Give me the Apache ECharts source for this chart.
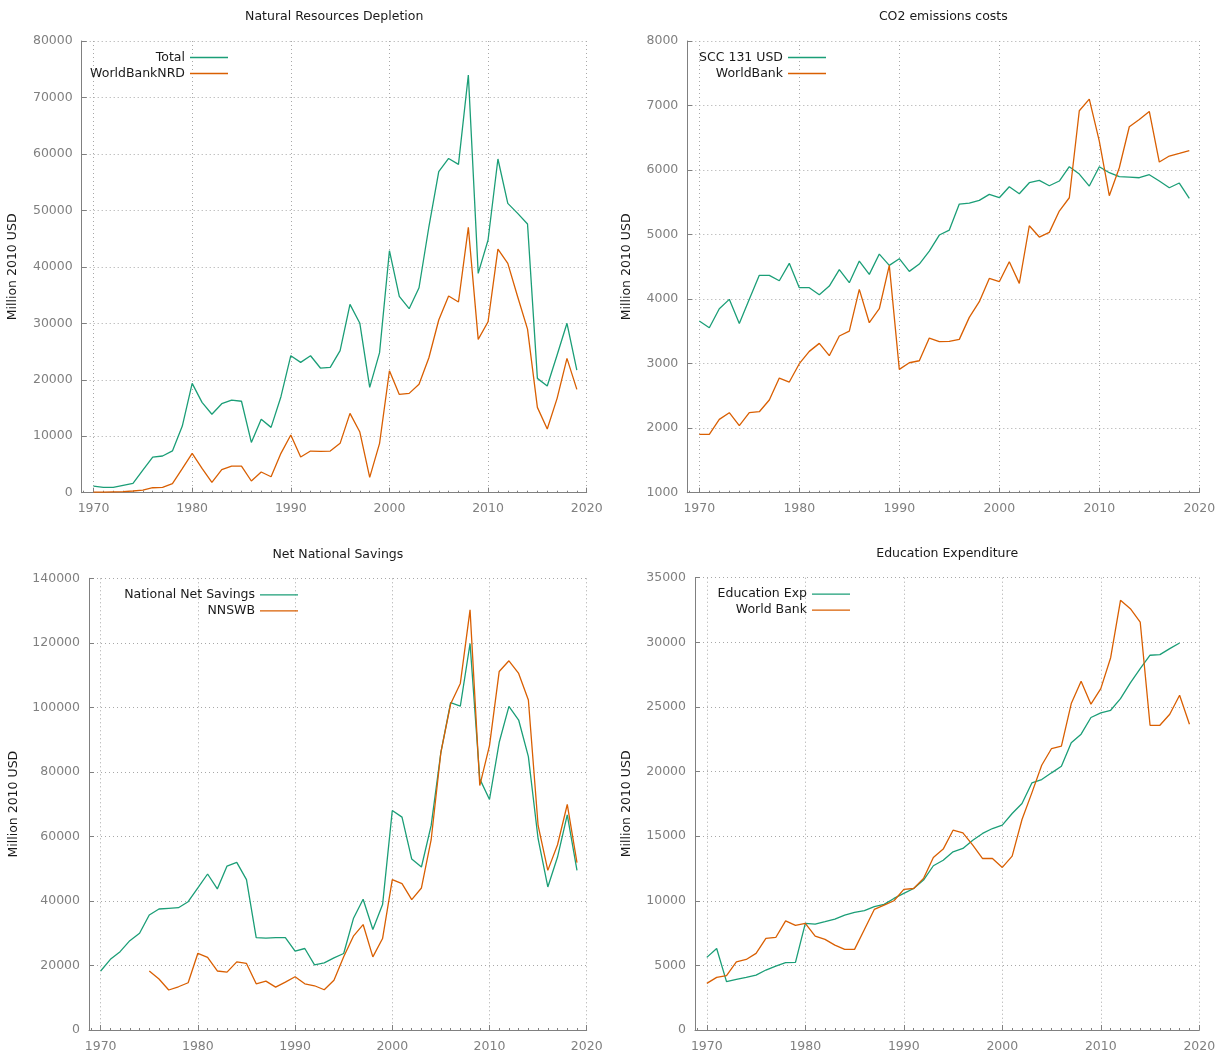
<!DOCTYPE html>
<html>
<head>
<meta charset="utf-8">
<title>Depletion, emissions, savings, education</title>
<script src="https://cdn.jsdelivr.net/npm/echarts@6/dist/echarts.min.js"></script>
<style>
  html, body { margin: 0; padding: 0; background: #ffffff; }
  #chart { width: 1228px; height: 1059px; }
</style>
</head>
<body>
<div id="chart"></div>
<script>
// years on the x axis
const years = [
  1970, 1971, 1972, 1973, 1974, 1975, 1976, 1977, 1978, 1979,
  1980, 1981, 1982, 1983, 1984, 1985, 1986, 1987, 1988, 1989,
  1990, 1991, 1992, 1993, 1994, 1995, 1996, 1997, 1998, 1999,
  2000, 2001, 2002, 2003, 2004, 2005, 2006, 2007, 2008, 2009,
  2010, 2011, 2012, 2013, 2014, 2015, 2016, 2017, 2018, 2019,
];

// Natural Resources Depletion (million 2010 USD)
const nrdTotal = [
  1180, 940, 940, 1300, 1650, 4000, 6300, 6500, 7400, 11800,
  19360, 16000, 13900, 15760, 16400, 16200, 8900, 13000, 11570, 17000,
  24260, 23080, 24260, 22080, 22200, 25150, 33350, 30000, 18650, 24800,
  42860, 34770, 32590, 36300, 47100, 56850, 59200, 58150, 73970, 38840,
  44750, 59100, 51240, 49470, 47580, 20250, 18900, 24380, 30000, 21720,
];
const nrdWorldBank = [
  100, 100, 150, 200, 300, 470, 880, 940, 1600, 4250,
  6970, 4300, 1830, 4070, 4720, 4720, 2070, 3660, 2830, 6970,
  10210, 6320, 7380, 7320, 7380, 8740, 14050, 10740, 2720, 8740,
  21600, 17400, 17590, 19190, 23900, 30580, 34830, 33770, 46990, 27150,
  30280, 43150, 40610, 34710, 28980, 15110, 11280, 16710, 23790, 18300,
];

// CO2 emissions costs
const co2Scc = [
  3660, 3557, 3851, 3996, 3624, 3996, 4368, 4368, 4285, 4554,
  4177, 4177, 4068, 4202, 4456, 4254, 4590, 4383, 4698, 4523,
  4626, 4430, 4543, 4745, 4993, 5070, 5473, 5488, 5530, 5623,
  5571, 5742, 5633, 5804, 5840, 5757, 5830, 6052, 5938, 5752,
  6052, 5959, 5897, 5891, 5881, 5928, 5830, 5726, 5799, 5561,
];
const co2WorldBank = [
  1904, 1904, 2136, 2240, 2038, 2240, 2255, 2436, 2777, 2715,
  2999, 3190, 3314, 3123, 3428, 3505, 4151, 3634, 3851, 4523,
  2911, 3014, 3045, 3397, 3340, 3345, 3376, 3717, 3960, 4321,
  4270, 4580, 4244, 5137, 4962, 5034, 5365, 5571, 6919, 7100,
  6449, 5602, 6036, 6671, 6785, 6909, 6124, 6217, 6258, 6300,
];

// Net National Savings
const savingsNet = [
  18290, 21910, 24270, 27680, 29970, 35640, 37500, 37700, 37900, 39770,
  44020, 48350, 43710, 50820, 51960, 46600, 28660, 28450, 28660, 28660,
  24430, 25260, 20200, 20820, 22370, 23710, 34540, 40520, 31130, 38870,
  68040, 65980, 52990, 50520, 63400, 86080, 101440, 100410, 119790, 77840,
  71440, 89180, 100310, 96080, 84740, 59280, 44330, 53610, 66700, 49480,
];
const savingsWorldBank = [
  null, null, null, null, null, 18290, 15800, 12400, 13400, 14650,
  23770, 22530, 18290, 17940, 21130, 20620, 14330, 15150, 13300, 14850,
  16490, 14330, 13710, 12470, 15400, 22680, 29070, 32680, 22680, 28350,
  46600, 45360, 40410, 44020, 58970, 86080, 101030, 107420, 130210, 75770,
  88140, 111130, 114430, 110520, 102270, 63400, 49480, 57420, 69900, 51860,
];

// Education Expenditure
const eduExp = [
  5620, 6310, 3740, 3920, 4070, 4250, 4640, 4950, 5210, 5230,
  8250, 8200, 8380, 8580, 8890, 9100, 9230, 9540, 9720, 10180,
  10570, 10950, 11600, 12710, 13140, 13790, 14050, 14690, 15210, 15590,
  15850, 16750, 17530, 19120, 19380, 19900, 20410, 22220, 22890, 24180,
  24540, 24740, 25640, 26860, 27960, 29000, 29050, 29510, 29950, null,
];
const eduWorldBank = [
  3610, 4070, 4200, 5280, 5460, 5930, 7090, 7160, 8450, 8090,
  8250, 7270, 7010, 6570, 6240, 6240, 7780, 9330, 9660, 10000,
  10880, 10950, 11730, 13350, 14000, 15460, 15260, 14300, 13270, 13270,
  12580, 13450, 16290, 18350, 20490, 21780, 21960, 25260, 26990, 25210,
  26420, 28810, 33250, 32600, 31570, 23580, 23580, 24430, 25900, 23660,
];

const FONT = '"DejaVu Sans", Verdana, sans-serif';
const FONT_SIZE = 12.5;
const GREEN = '#1b9e77';
const ORANGE = '#d95f02';
const INK = '#1a1a1a';
const GREY = '#808080';

const panels = [
  {
    title: 'Natural Resources Depletion',
    names: ['Total', 'WorldBankNRD'],
    values: [nrdTotal, nrdWorldBank],
    box: { left: 81.7, top: 41, width: 505, height: 451.7 },
    y: { min: 0, max: 80000, interval: 10000 },
    nameGap: 62,
    legendRight: 1000,
  },
  {
    title: 'CO2 emissions costs',
    names: ['SCC 131 USD', 'WorldBank'],
    values: [co2Scc, co2WorldBank],
    box: { left: 687.3, top: 41, width: 512, height: 451.7 },
    y: { min: 1000, max: 8000, interval: 1000 },
    nameGap: 54,
    legendRight: 402,
  },
  {
    title: 'Net National Savings',
    names: ['National Net Savings', 'NNSWB'],
    values: [savingsNet, savingsWorldBank],
    box: { left: 89, top: 578.3, width: 497.7, height: 451.7 },
    y: { min: 0, max: 140000, interval: 20000 },
    nameGap: 69,
    legendRight: 930,
  },
  {
    title: 'Education Expenditure',
    names: ['Education Exp', 'World Bank'],
    values: [eduExp, eduWorldBank],
    box: { left: 695, top: 577.7, width: 504.3, height: 452.3 },
    y: { min: 0, max: 35000, interval: 5000 },
    nameGap: 62,
    legendRight: 378,
  },
];

const dotted = { color: '#a8a8a8', width: 1, type: [1, 3] };

const option = {
  animation: false,
  backgroundColor: '#ffffff',
  textStyle: { fontFamily: FONT },
  grid: [],
  xAxis: [],
  yAxis: [],
  series: [],
  legend: [],
  graphic: [],
};

panels.forEach((p, i) => {
  option.grid.push(Object.assign({ containLabel: false }, p.box));

  option.xAxis.push({
    type: 'value',
    gridIndex: i,
    min: 1968.8,
    max: 2020,
    splitNumber: 5,
    axisLine: { lineStyle: { color: GREY, width: 1 } },
    axisTick: { inside: true, length: 5, lineStyle: { color: GREY } },
    minorTick: { show: true, splitNumber: 10, length: 2, lineStyle: { color: GREY } },
    axisLabel: {
      color: GREY, fontSize: FONT_SIZE, fontFamily: FONT, margin: 10,
      showMinLabel: false,
      formatter: (v) => String(Math.round(v)),
    },
    splitLine: { show: true, lineStyle: dotted },
  });

  option.yAxis.push({
    type: 'value',
    gridIndex: i,
    min: p.y.min,
    max: p.y.max,
    interval: p.y.interval,
    name: 'Million 2010 USD',
    nameLocation: 'middle',
    nameRotate: 90,
    nameGap: p.nameGap,
    nameTextStyle: { color: INK, fontSize: FONT_SIZE, fontFamily: FONT },
    axisLine: { show: true, lineStyle: { color: GREY, width: 1 } },
    axisTick: { show: true, inside: true, length: 5, lineStyle: { color: GREY } },
    axisLabel: {
      color: GREY, fontSize: FONT_SIZE, fontFamily: FONT, margin: 9,
      formatter: (v) => String(v),
    },
    splitLine: { show: true, lineStyle: dotted },
  });

  [GREEN, ORANGE].forEach((color, k) => {
    option.series.push({
      type: 'line',
      name: p.names[k],
      xAxisIndex: i,
      yAxisIndex: i,
      data: years.map((yr, j) => [yr, p.values[k][j]]),
      symbol: 'none',
      connectNulls: false,
      lineStyle: { color: color, width: 1.3 },
      itemStyle: { color: color },
    });
  });

  option.legend.push({
    data: p.names.map((n, k) => ({ name: n, itemStyle: { color: k ? ORANGE : GREEN } })),
    orient: 'vertical',
    align: 'right',
    right: p.legendRight,
    top: p.box.top + 10,
    padding: 0,
    icon: 'rect',
    itemWidth: 38,
    itemHeight: 1.3,
    itemGap: 3,
    selectedMode: false,
    textStyle: { color: INK, fontSize: FONT_SIZE, fontFamily: FONT },
  });

  option.graphic.push({
    type: 'text',
    x: p.box.left + p.box.width / 2,
    y: p.box.top - 24,
    style: {
      text: p.title,
      align: 'center',
      verticalAlign: 'middle',
      font: FONT_SIZE + 'px ' + FONT,
      fill: INK,
    },
  });
});

const chart = echarts.init(document.getElementById('chart'));
chart.setOption(option);
</script>
</body>
</html>
